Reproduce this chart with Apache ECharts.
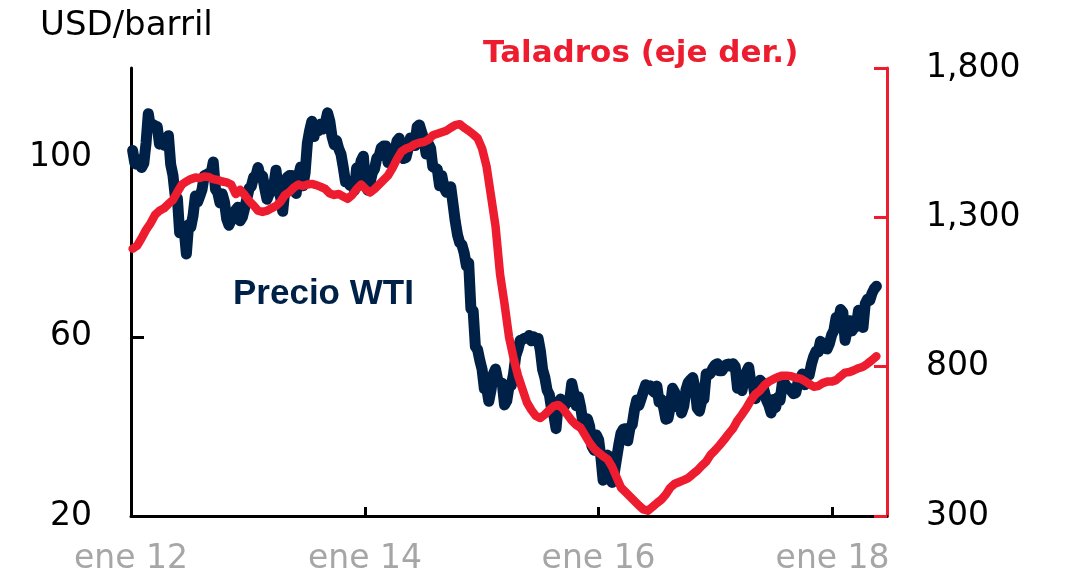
<!DOCTYPE html>
<html>
<head>
<meta charset="utf-8">
<title>Precio WTI y taladros</title>
<script src="https://cdn.jsdelivr.net/npm/echarts@6/dist/echarts.min.js"></script>
<style>
  html, body { margin: 0; padding: 0; background: #fff; }
  #chart { width: 1077px; height: 576px; }
</style>
</head>
<body>
<div id="chart"></div>
<script>
"use strict";

// Both series start on Friday 6 Jan 2012.
var startDate = '2012-01-06';
var wtiStepDays = 7;   // weekly
var rigStepDays = 14;  // every two weeks

// WTI price, USD/barrel (left axis), weekly
var wti = [
  // 2012
  101.6, 98.7, 98.5, 99.6, 97.8, 98.7, 103.2, 109.8, 106.7, 107.4, 107.1, 106.9, 103.0,
  103.3, 102.8, 103.1, 104.9, 98.5, 96.1, 91.5, 90.9, 83.2, 84.1, 84.0, 78.5, 85.0,
  84.5, 87.1, 91.4, 90.1, 91.4, 92.9, 96.0, 96.2, 96.5, 96.4, 99.0, 92.9, 92.2,
  89.9, 91.9, 90.1, 86.3, 84.9, 86.1, 86.7, 88.3, 88.9, 85.9, 86.7, 88.7, 90.8,
  // 2013
  93.1, 93.6, 95.6, 95.9, 97.8, 95.7, 95.9, 93.1, 90.7, 92.0, 93.5, 93.7, 97.2,
  92.7, 91.3, 88.0, 93.0, 95.6, 96.0, 96.0, 94.2, 92.0, 95.8, 97.9, 93.7, 96.6,
  103.2, 106.0, 108.1, 104.7, 106.9, 106.0, 107.5, 106.4, 107.7, 110.0, 108.2, 104.7, 102.9,
  103.8, 102.0, 100.8, 97.9, 94.6, 94.6, 93.8, 94.8, 92.7, 97.7, 96.6, 99.3, 100.3,
  // 2014
  94.0, 92.7, 94.4, 96.6, 97.5, 99.9, 100.3, 102.2, 102.6, 102.6, 98.9, 99.5, 101.7,
  101.1, 103.7, 104.3, 100.6, 99.8, 100.0, 102.0, 104.4, 102.7, 102.7, 106.9, 107.3, 105.7,
  104.1, 100.8, 103.1, 102.1, 97.9, 97.7, 97.4, 93.7, 96.0, 93.3, 92.3, 92.4, 93.5,
  89.7, 85.8, 82.8, 81.0, 80.5, 78.7, 75.8, 76.5, 66.2, 65.8, 57.8, 57.1, 54.7,
  // 2015
  52.7, 48.4, 48.7, 45.6, 48.2, 51.7, 52.8, 50.3, 49.8, 49.6, 44.8, 45.7, 48.9,
  49.1, 51.6, 55.7, 57.2, 59.2, 59.4, 59.7, 59.7, 60.3, 59.1, 60.0, 59.6, 59.6,
  56.9, 52.7, 50.9, 48.1, 47.1, 43.9, 42.5, 39.5, 45.2, 46.1, 44.6, 44.7, 45.7,
  45.5, 49.6, 47.3, 44.6, 46.6, 44.3, 40.7, 40.4, 41.7, 40.0, 35.6, 34.7, 38.1,
  // 2016
  37.0, 33.2, 28.0, 32.2, 33.6, 30.9, 27.5, 29.6, 32.8, 35.9, 38.5, 39.4, 39.5,
  36.8, 39.7, 40.4, 43.7, 45.9, 44.7, 46.2, 47.8, 49.3, 48.6, 49.1, 48.0, 47.6,
  49.0, 45.4, 46.0, 44.2, 41.6, 41.8, 44.5, 48.5, 47.6, 44.4, 45.9, 43.0, 44.5,
  48.2, 49.8, 50.4, 50.9, 48.7, 44.1, 43.4, 45.7, 46.1, 51.7, 51.5, 51.9, 53.0, 53.7,
  // 2017
  54.0, 52.4, 52.4, 53.2, 53.8, 53.9, 53.4, 54.0, 53.3, 48.5, 48.8, 48.0, 50.6,
  52.2, 53.2, 49.6, 49.3, 46.2, 47.8, 50.3, 49.8, 47.7, 45.8, 44.7, 43.0, 46.0,
  44.2, 46.5, 45.8, 49.7, 49.6, 48.8, 48.5, 47.9, 47.3, 47.5, 49.9, 50.7, 51.7,
  49.3, 51.5, 51.5, 53.9, 55.6, 56.7, 56.6, 59.0, 58.4, 57.4, 57.3, 58.5, 60.4,
  // 2018
  61.4, 64.3, 63.4, 66.1, 65.5, 59.2, 61.7, 63.6, 61.3, 62.0, 62.3, 65.9, 64.9,
  62.1, 67.4, 68.4, 68.1, 69.7, 70.7, 71.3
];

// Oil rig count (right axis), every two weeks
var rigs = [
  // 2012
  1195, 1205, 1230, 1258, 1280, 1308, 1322, 1330, 1345, 1358, 1385, 1410, 1420,
  1428, 1433, 1432, 1437, 1435, 1428, 1425, 1420, 1417, 1410, 1378, 1392, 1375,
  // 2013
  1355, 1340, 1322, 1318, 1322, 1330, 1338, 1352, 1375, 1385, 1400, 1410, 1405,
  1410, 1412, 1408, 1402, 1395, 1380, 1375, 1378, 1370, 1362, 1375, 1395, 1410,
  // 2014
  1395, 1383, 1395, 1410, 1425, 1440, 1465, 1495, 1520, 1530, 1535, 1545, 1550,
  1552, 1560, 1575, 1580, 1585, 1590, 1600, 1609, 1612, 1600, 1590, 1578, 1565,
  // 2015
  1530, 1470, 1370, 1270, 1110, 1010, 900, 830, 770, 725, 680, 655, 635,
  628, 640, 655, 668, 672, 660, 640, 620, 605, 595, 570, 545, 525,
  // 2016
  512, 500, 490, 465, 430, 395, 380, 365, 350, 335, 322, 318, 330,
  343, 355, 372, 395, 408, 414, 420, 427, 440, 452, 468, 482, 505, 520,
  // 2017
  537, 555, 575, 593, 620, 640, 662, 688, 708, 720, 738, 750, 758,
  765, 770, 770, 768, 763, 760, 752, 742, 733, 735, 745, 750, 750,
  // 2018
  755, 768, 780, 782, 788, 795, 800, 810, 822, 835
];

var xTickDates = ['2012-01-01', '2014-01-01', '2016-01-01', '2018-01-01'];
var xTickLabels = ['ene 12', 'ene 14', 'ene 16', 'ene 18'];
var leftTicks = [20, 60, 100];
var rightTicks = [300, 800, 1300, 1800];

var navy = '#002147';
var red = '#ed1c2e';
var font = 'DejaVu Sans';
var DAY = 86400000;

var t0 = Date.parse(startDate);
function toPairs(values, step) {
  return values.map(function (v, i) {
    return [t0 + i * step * DAY, v];
  });
}
var xTickTimes = xTickDates.map(function (d) { return Date.parse(d); });

function xLabel(value) {
  for (var k = 0; k < xTickTimes.length; k++) {
    if (Math.abs(xTickTimes[k] - value) < DAY) return xTickLabels[k];
  }
  return '';
}

var chart = echarts.init(document.getElementById('chart'), null, { renderer: 'canvas' });

// x is a plain numeric axis on timestamps so custom tick positions can be used
chart.setOption({
  animation: false,
  backgroundColor: '#fff',
  grid: { left: 131, right: 190, top: 68, bottom: 58 },
  xAxis: {
    type: 'value',
    min: Date.parse('2012-01-01'),
    max: Date.parse('2018-06-20'),
    axisLine: { show: true, lineStyle: { color: '#000', width: 3 } },
    axisTick: {
      show: true, inside: true, length: 9, customValues: xTickTimes,
      lineStyle: { color: '#000', width: 3 }
    },
    axisLabel: {
      customValues: xTickTimes, formatter: xLabel,
      color: '#a6a6a6', fontFamily: font, fontSize: 33, margin: 27
    },
    splitLine: { show: false }
  },
  yAxis: [
    {
      type: 'value', min: 20, max: 120, position: 'left',
      axisLine: { show: true, lineStyle: { color: '#000', width: 3 } },
      axisTick: {
        show: true, inside: true, length: 13, customValues: leftTicks,
        lineStyle: { color: '#000', width: 3 }
      },
      axisLabel: {
        customValues: leftTicks, margin: 39,
        color: '#000', fontFamily: font, fontSize: 33
      },
      splitLine: { show: false }
    },
    {
      type: 'value', min: 300, max: 1800, interval: 500, position: 'right',
      axisLine: { show: true, lineStyle: { color: red, width: 3 } },
      axisTick: {
        show: true, inside: true, length: 13, customValues: rightTicks,
        lineStyle: { color: red, width: 3 }
      },
      axisLabel: {
        customValues: rightTicks, margin: 39, color: '#000', fontFamily: font, fontSize: 33,
        formatter: function (v) { return v.toLocaleString('en-US'); }
      },
      splitLine: { show: false }
    }
  ],
  series: [
    {
      name: 'Precio WTI', type: 'line', yAxisIndex: 0,
      data: toPairs(wti, wtiStepDays), showSymbol: false, symbol: 'none',
      lineStyle: { color: navy, width: 11, cap: 'round', join: 'round' },
      itemStyle: { color: navy }, z: 2
    },
    {
      name: 'Taladros', type: 'line', yAxisIndex: 1,
      data: toPairs(rigs, rigStepDays), showSymbol: false, symbol: 'none',
      lineStyle: { color: red, width: 8.5, cap: 'round', join: 'round' },
      itemStyle: { color: red }, z: 3
    }
  ],
  graphic: [
    {
      type: 'text', x: 40, y: 26,
      style: { text: 'USD/barril', fill: '#000', font: '34px "DejaVu Sans"', verticalAlign: 'middle' }
    },
    {
      type: 'text', x: 483, y: 54,
      style: { text: 'Taladros (eje der.)', fill: red, font: 'bold 31px "DejaVu Sans"', verticalAlign: 'middle' }
    },
    {
      type: 'text', x: 233, y: 294,
      style: { text: 'Precio WTI', fill: navy, font: 'bold 35px "Liberation Sans"', verticalAlign: 'middle' }
    }
  ]
});
</script>
</body>
</html>
